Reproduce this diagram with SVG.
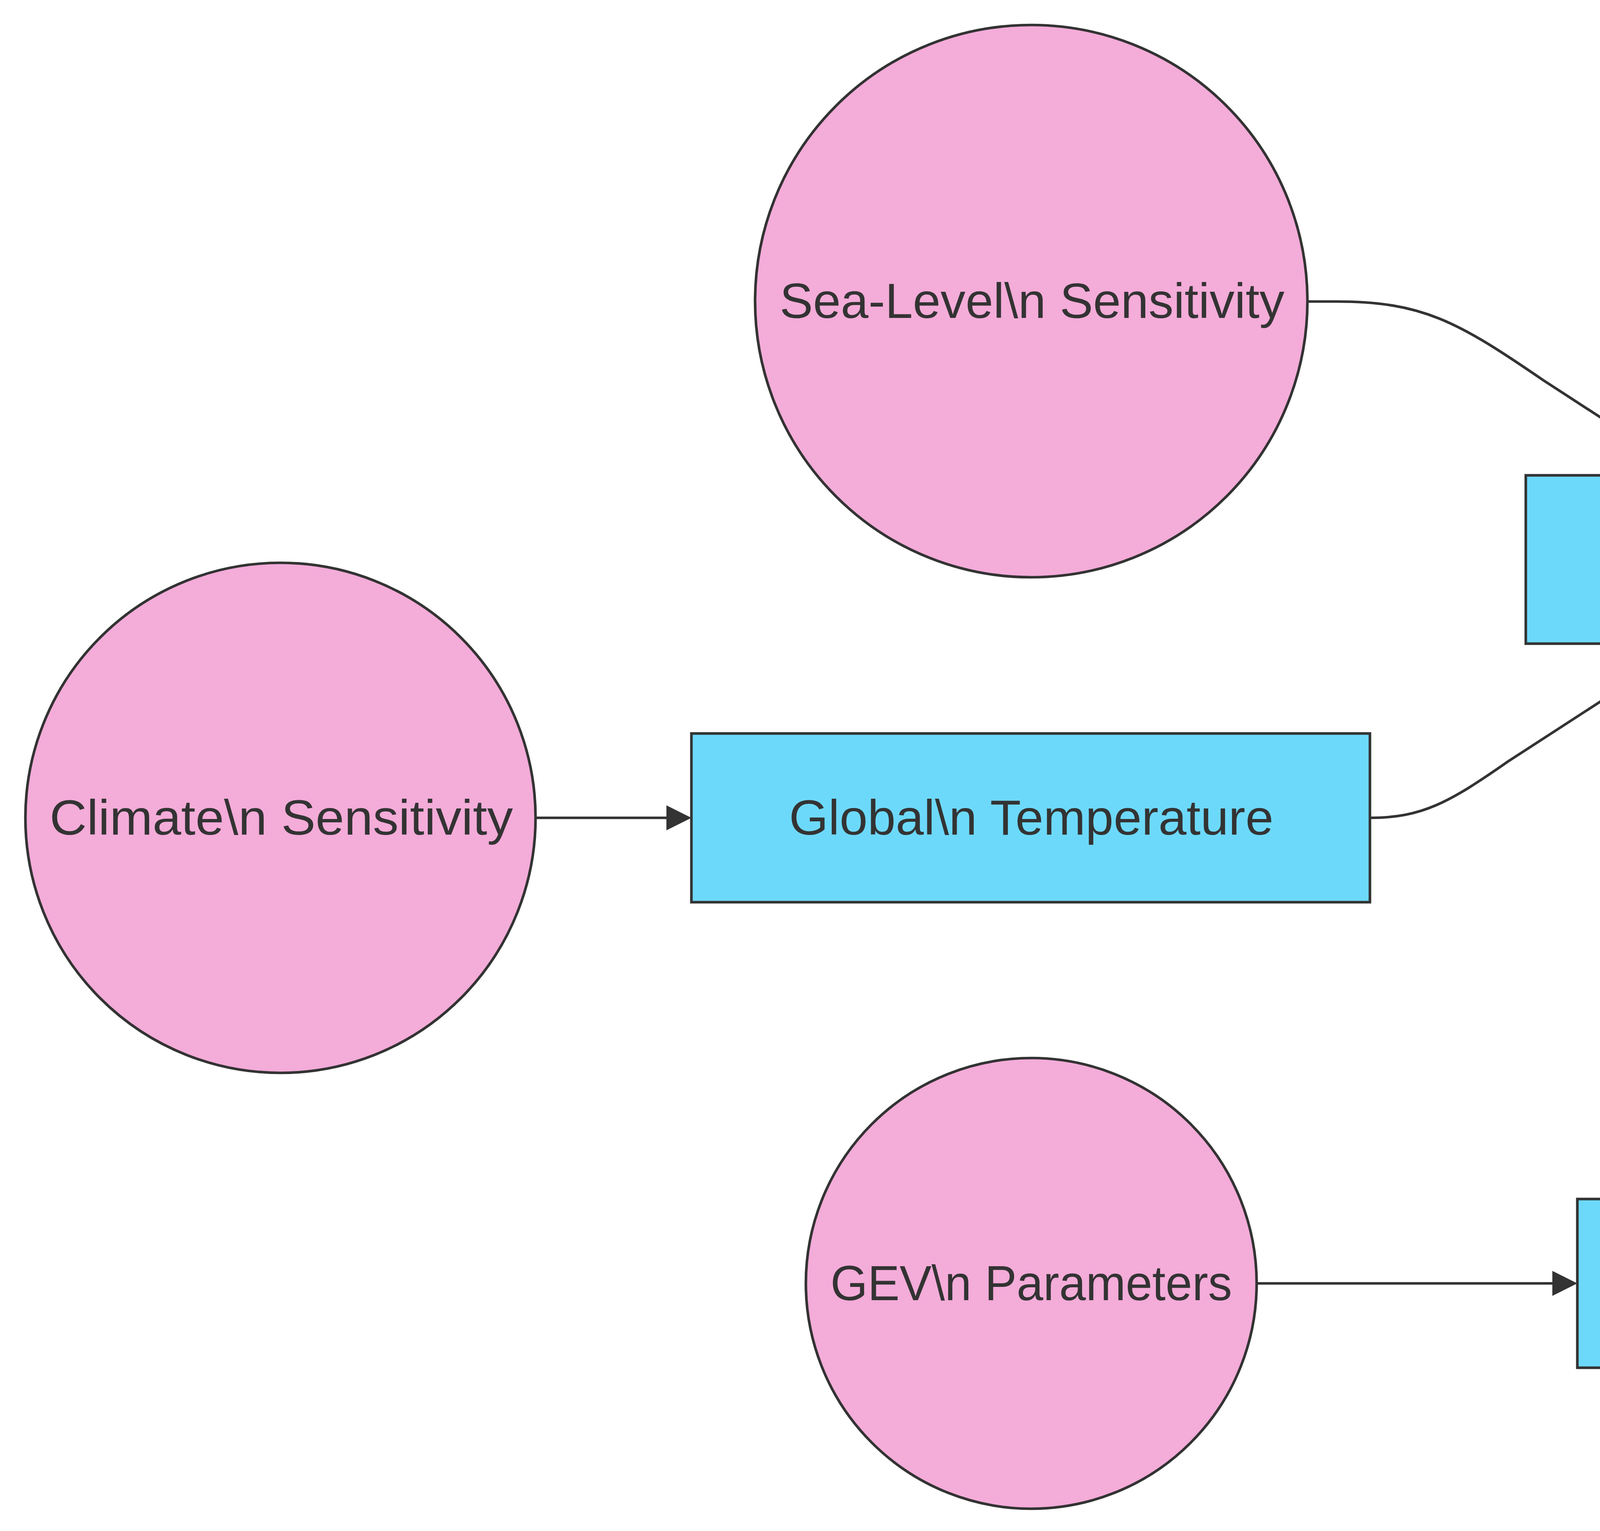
<svg xmlns="http://www.w3.org/2000/svg" width="6968" height="3920" viewBox="0 0 6968 3920">
<defs>
<style>
.circ{fill:#F4ACD9;stroke:#333333;stroke-width:6.7}
.blue{fill:#6DD9FA;stroke:#333333;stroke-width:6.7}
.green{fill:#B5DC56;stroke:#333333;stroke-width:6.7}
.lbl{font-family:"Liberation Sans",Arial,sans-serif;font-size:126px;fill:#333333;text-anchor:middle}
.edge{fill:none;stroke:#333333;stroke-width:6.7}
</style>
<marker id="arrow" viewBox="0 0 10 10" refX="0" refY="5" markerUnits="userSpaceOnUse" markerWidth="64" markerHeight="64" orient="auto">
<path d="M0,0 L10,5 L0,10 z" fill="#333333"/>
</marker>
</defs>
<rect x="0" y="0" width="6968" height="3920" fill="#ffffff"/>
<g id="connectors">
<path class="edge" marker-end="url(#arrow)" d="M3347,772 L3420,772 C3640,772 3730,822 3950,973 L4267,1179"/>
<path class="edge" marker-end="url(#arrow)" d="M3507,2094 C3640,2094 3710,2055 3860,1950 L4267,1686"/>
<path class="edge" marker-end="url(#arrow)" d="M1371,2094 L1706,2094"/>
<path class="edge" marker-end="url(#arrow)" d="M3217,3286 L3974,3286"/>
<path class="edge" marker-end="url(#arrow)" d="M5324,1432 C5480,1432 5560,1458 5705,1565 L5978,1773"/>
<path class="edge" marker-end="url(#arrow)" d="M5194,3286 C5420,3286 5540,3140 5690,2950 C5830,2770 6000,2470 6140,2295"/>
</g>
<g id="node-sea-level-sensitivity">
<circle class="circ" cx="2640" cy="771" r="707"/>
<text class="lbl" x="2642" y="814" textLength="1292" lengthAdjust="spacingAndGlyphs">Sea-Level\n Sensitivity</text>
</g>
<g id="node-climate-sensitivity">
<circle class="circ" cx="718" cy="2094" r="653"/>
<text class="lbl" x="720" y="2137" textLength="1186" lengthAdjust="spacingAndGlyphs">Climate\n Sensitivity</text>
</g>
<g id="node-gev-parameters">
<circle class="circ" cx="2640" cy="3286" r="577"/>
<text class="lbl" x="2640" y="3329" textLength="1028" lengthAdjust="spacingAndGlyphs">GEV\n Parameters</text>
</g>
<g id="node-global-temperature">
<rect class="blue" x="1770" y="1878" width="1737" height="432"/>
<text class="lbl" x="2640" y="2137" textLength="1240" lengthAdjust="spacingAndGlyphs">Global\n Temperature</text>
</g>
<g id="node-sea-level-rise">
<rect class="blue" x="3906" y="1217" width="1418" height="431"/>
<text class="lbl" x="4615" y="1475" textLength="927" lengthAdjust="spacingAndGlyphs">Sea-Level\n Rise</text>
</g>
<g id="node-storm-tides">
<rect class="blue" x="4038" y="3070" width="1156" height="432"/>
<text class="lbl" x="4615" y="3329" textLength="663" lengthAdjust="spacingAndGlyphs">Storm Tides</text>
</g>
<g id="node-overtopping">
<rect class="green" x="5722" y="1812" width="1184" height="432"/>
<text class="lbl" x="6314" y="2071" textLength="695" lengthAdjust="spacingAndGlyphs">Overtopping</text>
</g>
</svg>
